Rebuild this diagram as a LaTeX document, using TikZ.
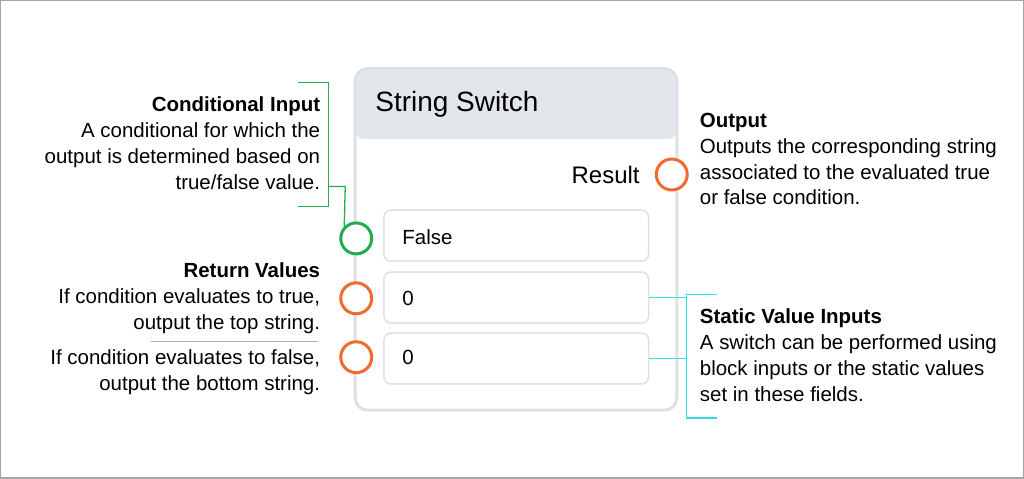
\documentclass[tikz,border=0pt]{standalone}
\usepackage{fontspec}
\setmainfont{Liberation Sans}
\usetikzlibrary{positioning}
\definecolor{portorange}{HTML}{F26B2C}
\definecolor{portgreen}{HTML}{1FAD4E}
\definecolor{bracketcyan}{HTML}{2FE0E6}
\definecolor{blockline}{HTML}{DDE1E6}
\definecolor{headfill}{HTML}{E3E7EC}
\tikzset{
  note/.style={font=\fontsize{20.5}{26}\selectfont, inner sep=0pt},
  leftnote/.style={note, align=right, anchor=north east},
  rightnote/.style={note, align=left, anchor=north west},
  field/.style={draw=blockline, line width=1.5pt, rounded corners=7pt, minimum width=265pt, minimum height=51pt, anchor=north west},
  fieldtext/.style={font=\fontsize{20.5}{22}\selectfont, anchor=west, inner sep=0pt},
  port/.style={circle, line width=3pt, minimum size=31pt, inner sep=0pt, fill=white},
  gbracket/.style={portgreen, line width=1.3pt},
  cbracket/.style={bracketcyan, line width=1.3pt}
}
\begin{document}
\begin{tikzpicture}[x=1pt,y=-1pt]
\draw[gray!70, line width=1.5pt] (0,0) rectangle (1024,478);
\useasboundingbox (0,0) rectangle (1024,478);

% block
\fill[headfill, rounded corners=12pt] (355,68) rectangle (677,140);
\fill[white] (357,138) rectangle (675,408);
\draw[blockline, line width=3pt, rounded corners=12pt] (355,68) rectangle (677,410);
\node (title) [anchor=west, font=\fontsize{28}{30}\selectfont, inner sep=0pt] at (375,104) {String Switch};
\node (result) [anchor=east, font=\fontsize{24}{26}\selectfont, inner sep=0pt] at (640,174) {Result};

\node (f1) [field] at (383,209) {};
\node (f2) [field] at (383,271) {};
\node (f3) [field] at (383,332) {};
\node [fieldtext] at (402,237) {False};
\node [fieldtext] at (402,298) {0};
\node [fieldtext] at (402,357) {0};

\node (out) [port, draw=portorange] at (672,174) {};
\node (cond) [port, draw=portgreen] at (356,238) {};
\node (top) [port, draw=portorange] at (356,298) {};
\node (bot) [port, draw=portorange] at (356,357) {};

% brackets
\draw[gbracket] (298,82) -- (328,82) -- (328,206) -- (298,206);
\draw[gbracket] (328,186) -- (345,186) -- (cond.north west);
\coordinate (cbar) at (687,294);
\draw[cbracket] (717,294) -- (cbar) -- (687,418) -- (717,418);
\draw[cbracket] (f2.east) -- (f2.east -| cbar);
\draw[cbracket] (f3.east) -- (f3.east -| cbar);

% notes
\node (condnote) [leftnote] at (320,96) {\textbf{Conditional Input}\\A conditional for which the\\output is determined based on\\true/false value.};
\node (retnote) [leftnote] at (320,262) {\textbf{Return Values}\\If condition evaluates to true,\\output the top string.};
\draw[gray!60, line width=0.8pt] (150,341) -- (318,341);
\node (retnote2) [leftnote] at (320,349) {If condition evaluates to false,\\output the bottom string.};
\node (outnote) [rightnote] at (700,112) {\textbf{Output}\\Outputs the corresponding string\\associated to the evaluated true\\or false condition.};
\node (statnote) [rightnote] at (700,308) {\textbf{Static Value Inputs}\\A switch can be performed using\\block inputs or the static values\\set in these fields.};
\end{tikzpicture}
\end{document}
